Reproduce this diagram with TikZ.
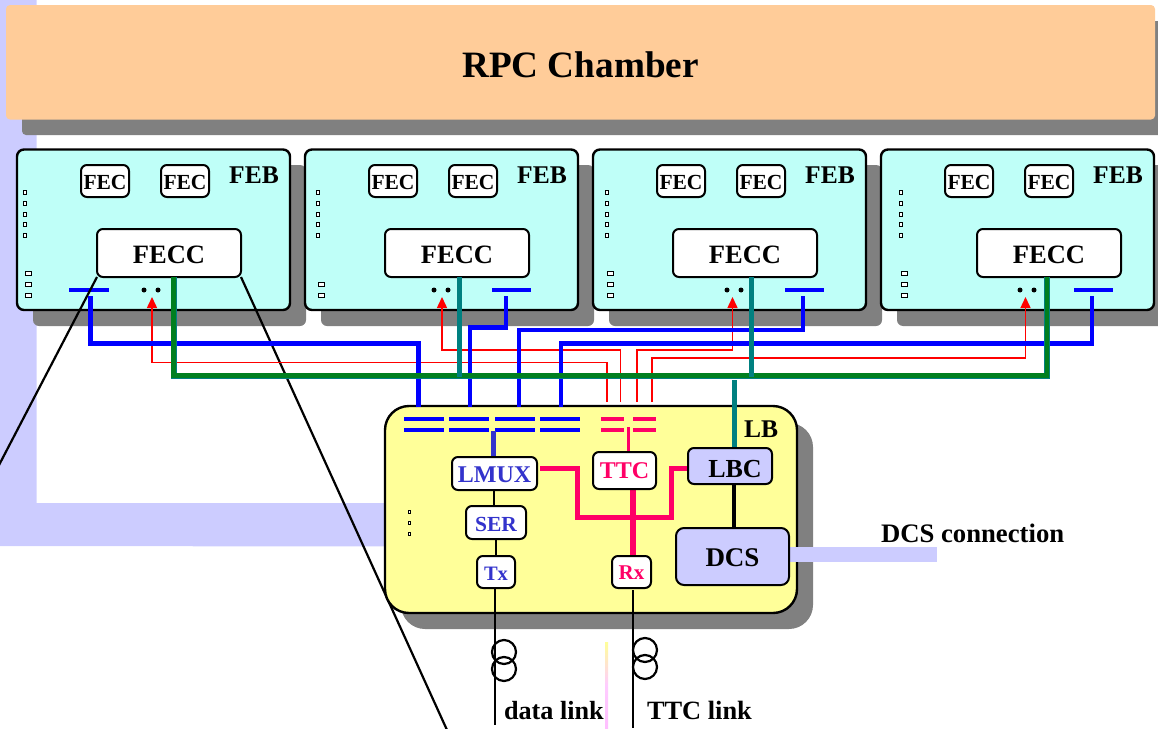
\documentclass[tikz,border=0pt]{standalone}
\usepackage{fontspec}
\setmainfont{Liberation Serif}
\usetikzlibrary{arrows.meta}
\definecolor{lav}{HTML}{CCCCFF}
\definecolor{peach}{HTML}{FFCC99}
\definecolor{shade}{HTML}{808080}
\definecolor{cyanbg}{HTML}{BFFFF8}
\definecolor{lbbg}{HTML}{FFFF99}
\definecolor{rosered}{HTML}{FF0066}
\definecolor{indigo}{HTML}{3333CC}
\definecolor{tealc}{HTML}{008080}
\definecolor{greenc}{HTML}{007F1F}
\definecolor{purered}{HTML}{FF0000}
\definecolor{pureblue}{HTML}{0000FF}
\newcommand{\pbox}[7][]{\node[outer sep=0pt,inner sep=0pt,#1,minimum width={((#5)-(#3))*1pt},minimum height={((#6)-(#4))*1pt}] (#2) at ({((#3)+(#5))/2},{((#4)+(#6))/2}) {#7};}
\newcommand{\dn}[2]{\raisebox{-#1}[\dimexpr\height+#1\relax][#1]{#2}}
\tikzset{
  every node/.style={font=\bfseries},
  febbox/.style={draw=black,line width=2.4pt,fill=cyanbg,rounded corners=7pt},
  shadowbox/.style={fill=shade,rounded corners=6pt},
  whitebox/.style={draw=black,line width=2pt,fill=white,rounded corners=6pt},
  lavbox/.style={draw=black,line width=2pt,fill=lav,rounded corners=6pt},
  fecfont/.style={font=\fontsize{21.5}{21.5}\bfseries\selectfont},
  feccfont/.style={font=\fontsize{26.5}{26.5}\bfseries\selectfont},
  febfont/.style={font=\fontsize{25.5}{25.5}\bfseries\selectfont},
  tinyport/.style={draw=black,line width=1pt,fill=white},
  bluebar/.style={fill=pureblue},
  redbar/.style={fill=rosered},
  dotp/.style={circle,fill=black,minimum size=5pt,inner sep=0pt,outer sep=0pt},
  redlink/.style={draw=purered,line width=1.5pt},
  redhead/.style={-{Triangle[length=11pt,width=10pt]}},
  bluelink/.style={draw=pureblue,line width=4.4pt},
  tealwire/.style={draw=tealc,line width=5pt},
  thinblack/.style={draw=black,line width=2.2pt},
  coil/.style={draw=black,line width=2.2pt,circle,minimum size=24pt,inner sep=0pt},
  label/.style={inner sep=0pt,outer sep=0pt},
}
\newcommand{\feb}[7]{% #1 suffix, #2 left, #3 FECC left, #4 bar left, #5 dot1 x, #6 port x, #7 lower ports
  \pbox[shadowbox]{shad#1}{#2+16}{165}{#2+289}{326}{}
  \pbox[febbox]{feb#1}{#2}{149.5}{#2+273}{310}{}
  \pbox[whitebox,fecfont]{feca#1}{#2+64}{165}{#2+112}{197}{\dn{1pt}{FEC}}
  \pbox[whitebox,fecfont]{fecb#1}{#2+144}{165}{#2+192}{197}{\dn{1pt}{FEC}}
  \node[label,febfont] (febl#1) at ({#2+237},175) {FEB};
  \pbox[whitebox,feccfont]{fecc#1}{#3}{229}{#3+144}{277}{\dn{2pt}{FECC}}
  \pbox[bluebar]{bar#1}{#4}{288}{#4+39.5}{292}{}
  \node[dotp] (dota#1) at (#5,290) {};
  \node[dotp] (dotb#1) at ({#5+14},290) {};
  \foreach \yy [count=\i] in {192,203,214,224.5,235}
    \pbox[tinyport]{pu#1\i}{#6-1.5}{\yy-2}{#6+1.5}{\yy+2}{};
  \foreach \yy [count=\i] in {#7}
    \pbox[tinyport]{pl#1\i}{#6+0.5}{\yy-2}{#6+6}{\yy+2}{};
}
\begin{document}
\begin{tikzpicture}[x=1pt,y=-1pt]
\useasboundingbox (0,0) rectangle (1158,728);
% background L band
\fill[lav] (0,0) -- (36.5,0) -- (36.5,503) -- (400,503) -- (400,546.5) -- (0,546) -- cycle;
% chamber
\pbox[shadowbox,rounded corners=4pt]{chshad}{22}{21}{1175}{135}{}
\pbox[fill=peach,rounded corners=4pt,font=\fontsize{37.2}{37}\bfseries\selectfont]{chamber}{6}{5}{1155}{119.5}{\dn{2pt}{RPC Chamber}}
% front-end boards
\feb{A}{17}{97}{69}{144}{25}{273,284,295}
\feb{B}{305}{385}{491.5}{434}{318}{284,295}
\feb{C}{593}{673}{784.5}{727}{607}{273,284,295}
\feb{D}{881}{977}{1073.5}{1020}{901}{273,284,295}
% long black fan-out lines
\coordinate (fanL) at (-2,467);
\coordinate (fanR) at (447,730);
\draw[thinblack] (feccA.south west) -- (fanL);
\draw[thinblack] (feccA.south east) -- (fanR);
% LB shadow and body
\pbox[shadowbox,rounded corners=24pt]{lbshad}{401}{423}{813}{629}{}
\pbox[draw=black,line width=2.4pt,fill=lbbg,rounded corners=24pt]{lb}{385}{406}{797}{613}{}
% DCS outgoing band
\pbox[fill=lav]{dcsband}{785}{547}{936.5}{562}{}
% connector ends at the LB
\foreach \nm/\xx in {ra/607,rb/620.5,rc/637,rd/652}
  \coordinate (\nm) at (\xx,402);
\foreach \nm/\xx in {ba/418.5,bb/470,bc/519,bd/561}
  \coordinate (\nm) at (\xx,407);
% connector ends at the boards
\coordinate (tipA) at (152,297);
\coordinate (tipB) at (442,297);
\coordinate (tipC) at (732.5,297);
\coordinate (tipD) at (1025.5,297);
\coordinate (upA) at (90.5,296);
\coordinate (upB) at (506,296);
\coordinate (upC) at (803,296);
\coordinate (upD) at (1092,296);
% red links
\draw[redlink,redhead] (ra) |- (152,362.5) -- (tipA);
\draw[redlink,redhead] (rb) |- (442,350) -- (tipB);
\draw[redlink,redhead] (rc) |- (732.5,350) -- (tipC);
\draw[redlink,redhead] (rd) |- (1025.5,358) -- (tipD);
% blue links
\draw[bluelink] (ba) -- (418.5,343.5) -- (90.5,343.5) -- (upA);
\draw[bluelink] (bb) -- (470,327.5) -- (506,327.5) -- (upB);
\draw[bluelink] (bc) -- (519,330) -- (803,330) -- (upC);
\draw[bluelink] (bd) -- (561,343.5) -- (1092,343.5) -- (upD);
% green bus
\coordinate (gA) at (173.5,277);
\coordinate (gD) at (1047,277);
\draw[draw=tealc,line width=6pt] (gA) -- (173.5,375.5) -- (1047,375.5) -- (gD);
\draw[draw=greenc,line width=4.2pt] (gA) -- (173.5,375.5) -- (1047,375.5) -- (gD);
% teal drops
\coordinate (tb) at (459,377);
\coordinate (tc) at (751,377);
\draw[tealwire] (feccB.south -| tb) -- (tb);
\draw[tealwire] (feccC.south -| tc) -- (tc);
% LB connectors bars
\foreach \nm/\xa in {q1/404,q2/449,q3/495,q4/540}{
  \pbox[bluebar]{\nm a}{\xa}{417}{\xa+39.5}{421}{}
  \pbox[bluebar]{\nm b}{\xa}{428}{\xa+39.5}{432}{}
}
\foreach \nm/\xa in {s1/601,s2/633}{
  \pbox[redbar]{\nm a}{\xa}{417}{\xa+23}{421}{}
  \pbox[redbar]{\nm b}{\xa}{428}{\xa+23}{432}{}
}
\foreach \yy [count=\i] in {512,523,534}
  \pbox[tinyport]{pm\i}{408}{\yy-1.5}{410.5}{\yy+1.5}{};
% LB inner wiring
\coordinate (lmuxTop) at (493,431);
\coordinate (ttcTop) at (628,427);
\coordinate (busA) at (577,468);
\coordinate (busB) at (577,517);
\coordinate (busC) at (671,517);
\coordinate (busD) at (671,468);
\coordinate (lmuxOut) at (540,468);
\draw[draw=indigo,line width=5pt] (lmuxTop) -- (493,458);
\draw[draw=rosered,line width=3pt] (ttcTop) -- (628,453);
\draw[draw=rosered,line width=5pt,line join=miter] (lmuxOut) -- (busA) -- (busB) -- (busC) -- (busD) -- (688,468);
\draw[draw=rosered,line width=5.5pt] (633,489) -- (633,556);
\draw[thinblack] (494,490) -- (494,506);
\draw[thinblack] (496,539) -- (496,556);
\draw[draw=black,line width=4pt] (734,484) -- (734,528);
\coordinate (txEnd) at (495,725);
\coordinate (rxEnd) at (633,728);
\draw[thinblack] (495,588) -- (txEnd);
\draw[thinblack] (633,590) -- (rxEnd);
\draw[tealwire] (734,380) -- (734,450);
% LB boxes
\pbox[whitebox,text=indigo,font=\fontsize{24}{24}\bfseries\selectfont]{lmux}{452}{457}{537}{490}{\dn{1pt}{LMUX}}
\pbox[whitebox,text=rosered,font=\fontsize{24}{24}\bfseries\selectfont]{ttc}{593}{452}{656}{489}{TTC}
\pbox[lavbox,font=\fontsize{26}{26}\bfseries\selectfont]{lbc}{688}{448}{772}{484}{\dn{3pt}{\hspace*{10pt}LBC}}
\pbox[whitebox,text=indigo,font=\fontsize{21.5}{21.5}\bfseries\selectfont]{ser}{466}{506}{526}{539}{\dn{2pt}{SER}}
\pbox[whitebox,text=indigo,font=\fontsize{20.5}{20.5}\bfseries\selectfont]{tx}{477}{556}{515}{588}{\dn{2pt}{Tx}}
\pbox[whitebox,text=rosered,font=\fontsize{21}{21}\bfseries\selectfont]{rx}{612}{556}{651}{588}{\dn{1pt}{Rx}}
\pbox[lavbox,rounded corners=8pt,font=\fontsize{27}{27}\bfseries\selectfont]{dcs}{676}{528}{789}{585}{\dn{1pt}{DCS}}
\node[label,font=\fontsize{25.5}{25.5}\bfseries\selectfont] (lbl) at (761,429) {LB};
% coils
\node[coil] (cA1) at (504,652) {};
\node[coil] (cA2) at (504,669) {};
\node[coil] (cB1) at (645,650) {};
\node[coil] (cB2) at (645,667) {};
% pale strip
\shade[top color=lbbg,bottom color=magenta!25,middle color=magenta!20] (605,642) rectangle (608,728);
% outer labels
\node[label,anchor=base west,font=\fontsize{26.7}{26.7}\bfseries\selectfont] (dcsc) at (881,542) {DCS connection};
\node[label,anchor=base west,font=\fontsize{26.2}{26}\bfseries\selectfont] (dlink) at (504,719) {data link};
\node[label,anchor=base west,font=\fontsize{26.4}{26}\bfseries\selectfont] (tlink) at (647,719) {TTC link};
\end{tikzpicture}
\end{document}
